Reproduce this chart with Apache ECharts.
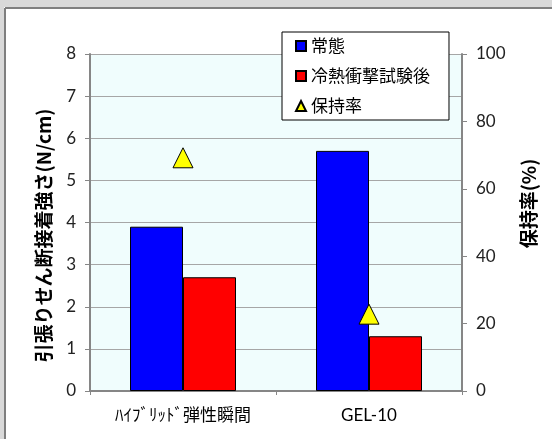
<!DOCTYPE html>
<html>
<head>
<meta charset="utf-8">
<script src="https://cdn.jsdelivr.net/npm/echarts@6/dist/echarts.min.js"></script>
<style>
  html, body { margin: 0; padding: 0; background: #fff; }
  #chart { width: 552px; height: 439px; }
</style>
</head>
<body>
<div id="chart"></div>
<script>
// data
const categories = ['ﾊｲﾌﾞﾘｯﾄﾞ弾性瞬間', 'GEL-10'];
const normalValues = [3.9, 5.7];      // 常態
const afterShockValues = [2.7, 1.3];  // 冷熱衝撃試験後
const retentionValues = [69.2, 22.8]; // 保持率 (%)

const jpFont = '"Noto Sans CJK JP", sans-serif';
const numFont = 'Lato, "Noto Sans CJK JP", sans-serif';
const axisGray = '#868686';
const gridGray = '#a6a6a6';

const chart = echarts.init(document.getElementById('chart'));
chart.setOption({
  animation: false,
  backgroundColor: '#fff',
  graphic: [
    { type: 'rect', shape: { x: 0, y: 0, width: 552, height: 7 }, style: { fill: '#d9d9d9' }, silent: true },
    { type: 'rect', shape: { x: 0, y: 0, width: 4, height: 439 }, style: { fill: '#d9d9d9' }, silent: true },
    { type: 'line', shape: { x1: 5, y1: 8, x2: 552, y2: 8 }, style: { stroke: '#7f7f7f', lineWidth: 2 }, silent: true },
    { type: 'line', shape: { x1: 5, y1: 8, x2: 5, y2: 439 }, style: { stroke: '#7f7f7f', lineWidth: 2 }, silent: true },
  ],
  grid: {
    left: 90,
    right: 90,
    top: 54,
    bottom: 48,
    show: true,
    backgroundColor: '#f0fdfd',
    borderWidth: 0,
  },
  legend: {
    orient: 'vertical',
    left: 282,
    top: 32,
    padding: [5, 19, 5, 13],
    itemGap: 12,
    itemWidth: 10,
    itemHeight: 10,
    itemTextGap: 5,
    backgroundColor: '#fff',
    borderColor: '#000',
    borderWidth: 1,
    textStyle: { fontFamily: jpFont, fontSize: 17, lineHeight: 18, color: '#000' },
    data: [
      { name: '常態', icon: 'rect' },
      { name: '冷熱衝撃試験後', icon: 'rect' },
      { name: '保持率', icon: 'triangle' },
    ],
  },
  xAxis: {
    type: 'category',
    data: categories,
    axisLine: { lineStyle: { color: axisGray, width: 2 } },
    axisTick: { show: true, length: 4, lineStyle: { color: axisGray } },
    axisLabel: { color: '#000', fontFamily: numFont, fontSize: 17, margin: 16 },
  },
  yAxis: [
    {
      type: 'value',
      min: 0,
      max: 8,
      interval: 1,
      name: '引張りせん断接着強さ(N/cm)',
      nameLocation: 'middle',
      nameRotate: 90,
      nameGap: 37,
      nameTextStyle: {
        fontFamily: jpFont, fontSize: 19, fontWeight: 'bold', color: '#000',
        padding: [0, 26, 0, 0],
      },
      axisLine: { show: true, lineStyle: { color: axisGray, width: 2 } },
      axisTick: { show: true, length: 5, lineStyle: { color: axisGray } },
      axisLabel: { color: '#222', fontFamily: numFont, fontSize: 17, margin: 14 },
      splitLine: { show: true, lineStyle: { color: gridGray, width: 1 } },
    },
    {
      type: 'value',
      min: 0,
      max: 100,
      interval: 20,
      position: 'right',
      name: '保持率(%)',
      nameLocation: 'middle',
      nameRotate: 90,
      nameGap: 57,
      nameTextStyle: {
        fontFamily: jpFont, fontSize: 19, fontWeight: 'bold', color: '#000',
        padding: [0, 0, 0, 38],
      },
      axisLine: { show: true, lineStyle: { color: axisGray, width: 2 } },
      axisTick: { show: true, length: 5, lineStyle: { color: axisGray } },
      axisLabel: { color: '#222', fontFamily: numFont, fontSize: 17, margin: 14 },
      splitLine: { show: false },
    },
  ],
  series: [
    {
      name: '常態',
      type: 'bar',
      barWidth: 53,
      barGap: 0,
      data: normalValues,
      itemStyle: { color: '#0000ff', borderColor: '#000', borderWidth: 1 },
    },
    {
      name: '冷熱衝撃試験後',
      type: 'bar',
      barWidth: 53,
      barGap: 0,
      data: afterShockValues,
      itemStyle: { color: '#ff0000', borderColor: '#000', borderWidth: 1 },
    },
    {
      name: '保持率',
      type: 'scatter',
      yAxisIndex: 1,
      symbol: 'triangle',
      symbolSize: 20,
      data: retentionValues,
      itemStyle: { color: '#ffff00', borderColor: '#000', borderWidth: 1, opacity: 1 },
      z: 5,
    },
  ],
});
</script>
</body>
</html>
